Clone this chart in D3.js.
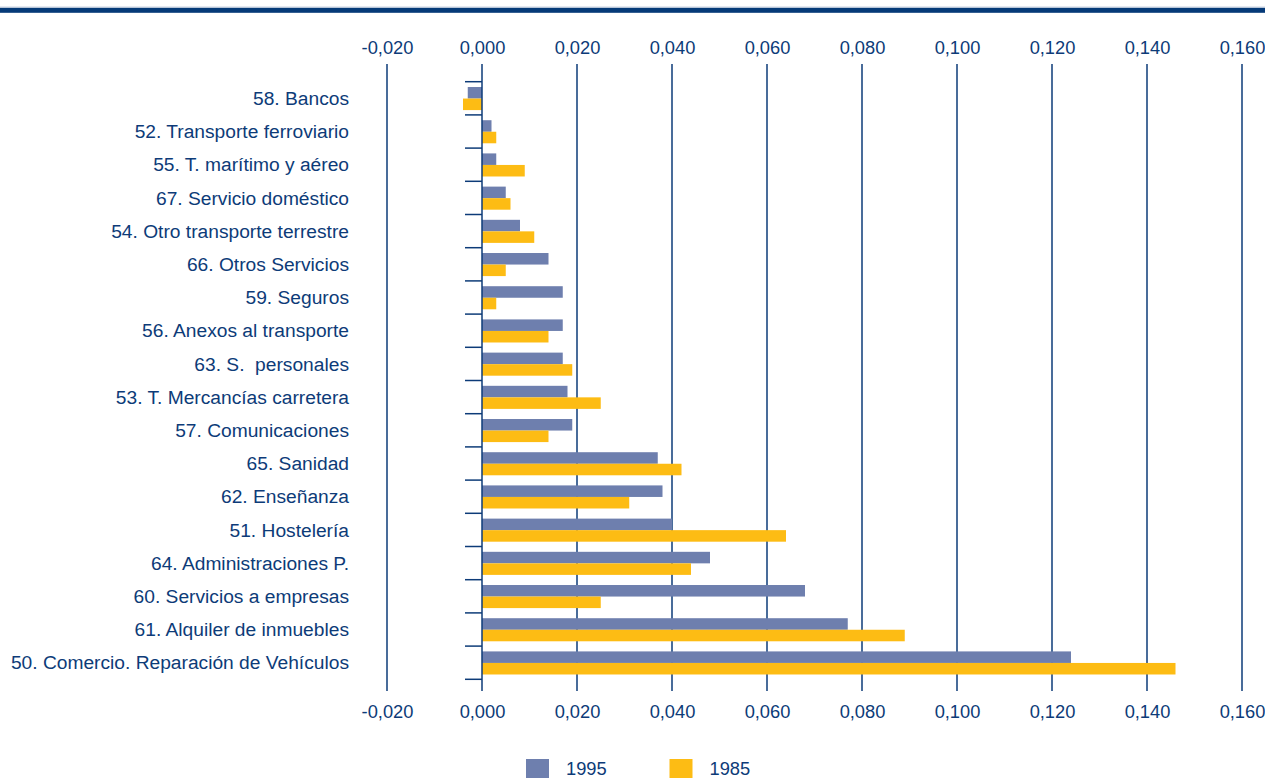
<!DOCTYPE html>
<html><head><meta charset="utf-8">
<script src="https://cdn.jsdelivr.net/npm/d3@7"></script>
<style>
html,body{margin:0;padding:0;background:#fff;}
svg{display:block;font-family:"Liberation Sans",Arial,sans-serif;}
text{white-space:pre;}
</style></head>
<body>
<svg id="chart" width="1265" height="778"></svg>
<script>
const categories = [
  "58. Bancos",
  "52. Transporte ferroviario",
  "55. T. marítimo y aéreo",
  "67. Servicio doméstico",
  "54. Otro transporte terrestre",
  "66. Otros Servicios",
  "59. Seguros",
  "56. Anexos al transporte",
  "63. S.  personales",
  "53. T. Mercancías carretera",
  "57. Comunicaciones",
  "65. Sanidad",
  "62. Enseñanza",
  "51. Hostelería",
  "64. Administraciones P.",
  "60. Servicios a empresas",
  "61. Alquiler de inmuebles",
  "50. Comercio. Reparación de Vehículos"
];
const values1995 = [-0.003,0.002,0.003,0.005,0.008,0.014,0.017,0.017,0.017,0.018,0.019,0.037,0.038,0.040,0.048,0.068,0.077,0.124];
const values1985 = [-0.004,0.003,0.009,0.006,0.011,0.005,0.003,0.014,0.019,0.025,0.014,0.042,0.031,0.064,0.044,0.025,0.089,0.146];
const seriesNames = ["1995","1985"];
const tickValues = [-0.02,0,0.02,0.04,0.06,0.08,0.1,0.12,0.14,0.16];

const colors = {"1995":"#6e7fae","1985":"#fdbc14"};
const navy = "#0d3b78";
const svg = d3.select("#chart");

const x = d3.scaleLinear().domain([-0.02,0.16]).range([387,1242]);
const y = d3.scaleBand().domain(categories).range([81.7,679.3]).padding(0);
const bw = y.bandwidth();
const ySub = d3.scaleBand().domain(seriesNames).range([bw*0.16, bw*0.855]).padding(0);

const fmt = v => d3.format(".3f")(v).replace(".",",").replace("−","-");

// top band
svg.append("rect").attr("x",0).attr("y",6.5).attr("width",1265).attr("height",1).attr("fill","#c9d3e3");
svg.append("rect").attr("x",0).attr("y",7.8).attr("width",1265).attr("height",5).attr("fill","#053a78");

// gridlines
svg.append("g").selectAll("line").data(tickValues.filter(d=>d!==0)).join("line")
  .attr("x1",d=>x(d)).attr("x2",d=>x(d)).attr("y1",64).attr("y2",691)
  .attr("stroke",navy).attr("stroke-width",1.5);

// tick labels top & bottom
const axTop = d3.axisTop(x).tickValues(tickValues).tickFormat(fmt).tickSize(0);
const gTop = svg.append("g").attr("transform","translate(0,54)").call(axTop);
const axBot = d3.axisBottom(x).tickValues(tickValues).tickFormat(fmt).tickSize(0);
const gBot = svg.append("g").attr("transform","translate(0,704)").call(axBot);
[gTop,gBot].forEach(g=>{
  g.select(".domain").remove();
  g.selectAll("text").attr("fill",navy).attr("font-size",18.3).attr("font-family","Liberation Sans, Arial, sans-serif");
});
gTop.selectAll("text").attr("dy",0).attr("y",0);
gBot.selectAll("text").attr("dy",0).attr("y",14);

// bars
const rows = svg.append("g").selectAll("g").data(categories).join("g")
  .attr("transform",d=>`translate(0,${y(d)})`);
seriesNames.forEach(s=>{
  const vals = s==="1995"?values1995:values1985;
  rows.append("rect")
    .attr("x",(d,i)=>Math.min(x(0),x(vals[i])))
    .attr("width",(d,i)=>Math.abs(x(vals[i])-x(0)))
    .attr("y",ySub(s)).attr("height",ySub.bandwidth())
    .attr("fill",colors[s]);
});

// zero axis with row ticks
svg.append("line").attr("x1",x(0)).attr("x2",x(0)).attr("y1",64).attr("y2",691)
  .attr("stroke",navy).attr("stroke-width",1.5);
const tickYs = categories.map(c=>y(c)).concat([y(categories[categories.length-1])+bw]);
svg.append("g").selectAll("line").data(tickYs).join("line")
  .attr("x1",465).attr("x2",x(0)).attr("y1",d=>d).attr("y2",d=>d)
  .attr("stroke",navy).attr("stroke-width",1.5);

// category labels
svg.append("g").selectAll("text").data(categories).join("text")
  .attr("x",349).attr("y",d=>y(d)+bw/2).attr("dy","0.35em")
  .attr("text-anchor","end").attr("font-size",19.2).attr("fill",navy)
  .text(d=>d);

// legend
const legX = {"1995":526,"1985":669.5};
seriesNames.forEach(s=>{
  svg.append("rect").attr("x",legX[s]).attr("y",759).attr("width",23).attr("height",20).attr("fill",colors[s]);
  svg.append("text").attr("x",legX[s]+40).attr("y",775).attr("font-size",18.3).attr("fill",navy).text(s);
});
</script>
</body></html>
